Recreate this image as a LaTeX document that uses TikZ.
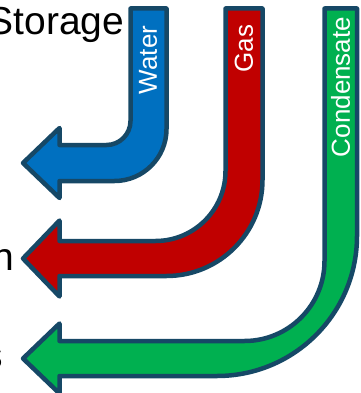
\documentclass[tikz,border=0pt]{standalone}
\usepackage{fontspec}
\setmainfont{Liberation Sans}
\definecolor{rim}{RGB}{22,72,102}
\definecolor{water}{RGB}{0,112,192}
\definecolor{gas}{RGB}{192,0,0}
\definecolor{cond}{RGB}{0,176,80}
\newcommand{\flow}[8]{\filldraw[pipe,fill=#1]
	(#2-#3,8.5) -- (#2-#3,#4-#5-#6) arc[start angle=0,end angle=90,radius=#6]
	-- (59.5,#4-#5) -- (59.5,#4-#8) -- (23,#4) -- (59.5,#4+#8) -- (59.5,#4+#5)
	-- (#2+#3-#7,#4+#5) arc[start angle=90,end angle=0,radius=#7] -- (#2+#3,8.5) -- cycle}
\tikzset{pipe/.style={draw=rim,line width=4.5,line join=round},
	lbl/.style={text=white,rotate=90,inner sep=0,font=\fontsize{26}{26}\selectfont},
	side/.style={anchor=base east,inner sep=0,font=\fontsize{39}{39}\selectfont}}
\begin{document}
\begin{tikzpicture}[x=1pt,y=-1pt]
	\useasboundingbox (0,0) rectangle (360,393);
		\flow{water}{148.5}{18}{163}{18}{24}{52}{35};
		\flow{gas}{244}{18.5}{258.5}{17.5}{70}{96}{38};
		\flow{cond}{340.75}{16.25}{358.5}{17.5}{80}{140}{35};
			\node[lbl] (wat) at (148,60) {Water};
			\node[lbl] (gs) at (244,48.5) {Gas};
			\node[lbl] (con) at (340.5,87) {Condensate};
				\node[side] (sto) at (124.5,35) {Storage};
				\node[side] (mid) at (14.5,270) {n};
				\node[side] (low) at (3,368) {s};
\end{tikzpicture}
\end{document}
